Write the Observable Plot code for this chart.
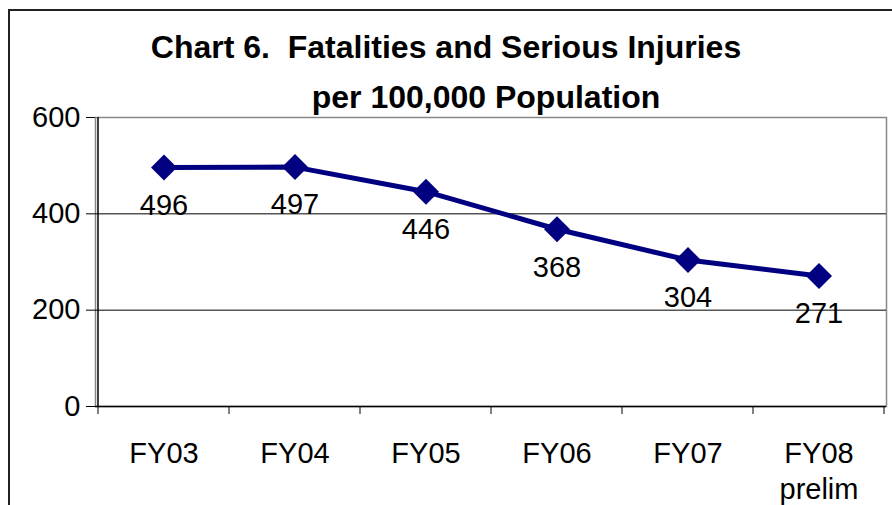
<!DOCTYPE html>
<html><head><meta charset="utf-8">
<script src="https://cdn.jsdelivr.net/npm/d3@7"></script>
<script src="https://cdn.jsdelivr.net/npm/@observablehq/plot@0.6"></script>
<style>
body{margin:0;background:#fff;font-family:"Liberation Sans",Arial,sans-serif;}
#wrap{position:relative;width:892px;height:505px;overflow:hidden;}
#frame{position:absolute;left:8px;top:9px;width:900px;height:520px;border-left:2px solid #222;border-top:2px solid #222;}
.t{position:absolute;font-weight:bold;font-size:32px;line-height:1;color:#000;white-space:pre;transform:translateX(-50%);}
#chart{position:absolute;left:0;top:0;}
</style></head>
<body>
<div id="wrap">
<div id="frame"></div>
<div id="chart"></div>
<div class="t" id="t1" style="left:446px;top:31px;">Chart 6.  Fatalities and Serious Injuries</div>
<div class="t" id="t2" style="left:486px;top:81px;">per 100,000 Population</div>
</div>
<script>
const categories = ["FY03","FY04","FY05","FY06","FY07","FY08"];
const categoryLabels = ["FY03","FY04","FY05","FY06","FY07","FY08\nprelim"];
const values = [496, 497, 446, 368, 304, 271];
const yTicks = [0, 200, 400, 600];

const data = categories.map((c,i)=>({cat:c, value:values[i]}));
const labelOf = new Map(categories.map((c,i)=>[c, categoryLabels[i]]));

const axisLines = (index, scales, values, dims) => {
  const g = d3.create("svg:g");
  const bw = scales.x.bandwidth ? scales.x.bandwidth() : 0;
  const pos = categories.map(c => scales.x(c)).concat([scales.x(categories[categories.length-1]) + bw]);
  const y0 = scales.y(0);
  const yTop = scales.y(600);
  const x0 = scales.x(categories[0]);
  for (const p of pos) {
    g.append("line").attr("x1", p).attr("x2", p).attr("y1", y0).attr("y2", y0+8)
      .attr("stroke", "#000").attr("stroke-width", 1);
  }
  g.append("line").attr("x1", x0).attr("x2", x0).attr("y1", yTop).attr("y2", y0)
    .attr("stroke", "#000").attr("stroke-width", 1.5);
  return g.node();
};

const chart = Plot.plot({
  width: 892, height: 505,
  marginLeft: 95, marginRight: 6, marginTop: 117, marginBottom: 99,
  style: {fontFamily: "Liberation Sans, Arial, sans-serif", background: "transparent", overflow: "visible"},
  x: {type: "band", domain: categories, padding: 0, axis: null},
  y: {domain: [0, 600], axis: null},
  marks: [
    Plot.frame({stroke: "#888", strokeWidth: 1.5}),
    Plot.gridY(yTicks.filter(v=>v>0 && v<600), {stroke: "#000", strokeOpacity: 1, strokeWidth: 1}),
    Plot.ruleY([0], {stroke: "#000", strokeWidth: 1.5}),
    Plot.axisY(yTicks, {tickSize: 9, tickPadding: 6, fontSize: 29, stroke: "#000", fill: "#000", label: null}),
    Plot.axisX(categories, {tickSize: 0, tickPadding: 31, fontSize: 29, fill: "#000", lineHeight: 1.24, tickFormat: d => labelOf.get(d), textAnchor: "middle", label: null}),
    axisLines,
    Plot.line(data, {x: "cat", y: "value", stroke: "#000080", strokeWidth: 5}),
    Plot.dot(data, {x: "cat", y: "value", symbol: "diamond2", r: 11.7, fill: "#000080", stroke: "none"}),
    Plot.text(data, {x: "cat", y: "value", text: d => String(d.value), dy: 38, fontSize: 29, fill: "#000"})
  ]
});
document.getElementById("chart").appendChild(chart);
</script>
</body></html>
